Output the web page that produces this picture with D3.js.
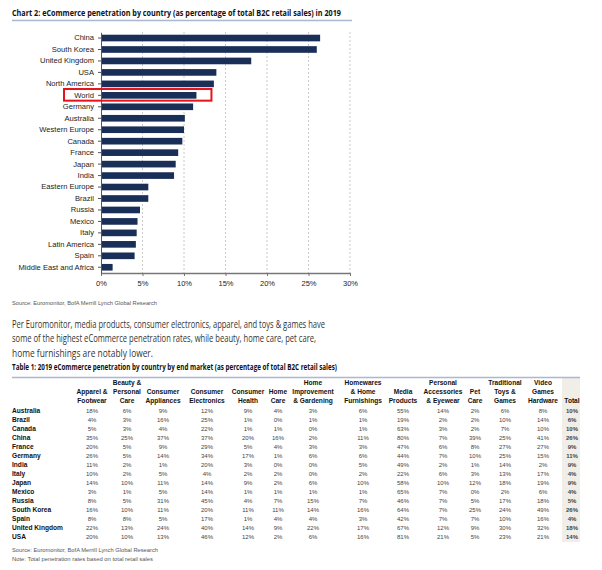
<!DOCTYPE html>
<html>
<head>
<meta charset="utf-8">
<script src="https://cdn.jsdelivr.net/npm/d3@7"></script>
<style>
  body { margin: 0; background: #fff; }
  svg { display: block; }
  .lbl { font-family: "Liberation Sans", Arial, sans-serif; fill: #222; }
  .ttl { font-family: "Open Sans", "Noto Sans", sans-serif; font-weight: 700; fill: #111; }
  .src { font-family: "Liberation Sans", Arial, sans-serif; font-size: 5.3px; fill: #555; }
  .para { font-family: "Open Sans", "Noto Sans", sans-serif; font-size: 10px; fill: #333; }
  .hdr { font-family: "Liberation Sans", Arial, sans-serif; font-weight: 700; font-size: 6.6px; fill: #111; }
  .cell { font-family: "Liberation Sans", Arial, sans-serif; font-size: 6px; fill: #444; }
</style>
</head>
<body>
<div id="chart"></div>
<script>
// chart 2 data
const countries = ['China', 'South Korea', 'United Kingdom', 'USA', 'North America', 'World', 'Germany',
  'Australia', 'Western Europe', 'Canada', 'France', 'Japan', 'India', 'Eastern Europe', 'Brazil',
  'Russia', 'Mexico', 'Italy', 'Latin America', 'Spain', 'Middle East and Africa'];
const penetration = [26.4, 26.0, 18.1, 13.9, 13.6, 11.5, 11.1, 10.1, 10.0, 9.8, 9.3, 9.0, 8.8,
  5.7, 5.7, 4.7, 4.4, 4.3, 4.2, 4.05, 1.4];
const xTicks = [0, 5, 10, 15, 20, 25, 30];
const highlighted = 'World';

// table 1 data
const tableCols = [
  ['', 'Apparel &', 'Footwear'],
  ['Beauty &', 'Personal', 'Care'],
  ['', 'Consumer', 'Appliances'],
  ['', 'Consumer', 'Electronics'],
  ['', 'Consumer', 'Health'],
  ['', 'Home', 'Care'],
  ['Home', 'Improvement', '& Gardening'],
  ['Homewares', '& Home', 'Furnishings'],
  ['', 'Media', 'Products'],
  ['Personal', 'Accessories', '& Eyewear'],
  ['', 'Pet', 'Care'],
  ['Traditional', 'Toys &', 'Games'],
  ['Video', 'Games', 'Hardware'],
  ['', '', 'Total']
];
const tableRows = ['Australia', 'Brazil', 'Canada', 'China', 'France', 'Germany', 'India', 'Italy',
  'Japan', 'Mexico', 'Russia', 'South Korea', 'Spain', 'United Kingdom', 'USA'];
const tableValues = [
  [18, 6, 9, 12, 9, 4, 3, 6, 55, 14, 2, 6, 8, 10],
  [4, 3, 16, 25, 1, 0, 1, 1, 19, 2, 2, 10, 14, 6],
  [5, 3, 4, 22, 1, 1, 0, 1, 63, 3, 2, 7, 10, 10],
  [35, 25, 37, 37, 20, 16, 2, 11, 80, 7, 39, 25, 41, 26],
  [20, 5, 9, 29, 5, 4, 3, 3, 47, 6, 8, 27, 27, 9],
  [26, 5, 14, 34, 17, 1, 6, 6, 44, 7, 10, 25, 15, 11],
  [11, 2, 1, 20, 3, 0, 0, 5, 49, 2, 1, 14, 2, 9],
  [10, 2, 5, 4, 2, 2, 0, 2, 22, 6, 3, 13, 17, 4],
  [14, 10, 11, 14, 9, 2, 6, 10, 58, 10, 12, 18, 19, 9],
  [3, 1, 5, 14, 1, 1, 1, 1, 65, 7, 0, 2, 6, 4],
  [8, 5, 31, 45, 4, 7, 15, 7, 46, 7, 5, 17, 18, 5],
  [16, 10, 11, 20, 11, 11, 14, 16, 64, 7, 25, 24, 49, 26],
  [8, 8, 5, 17, 1, 4, 4, 3, 42, 7, 7, 10, 16, 4],
  [22, 13, 24, 40, 14, 9, 22, 17, 67, 12, 9, 30, 32, 18],
  [20, 10, 13, 46, 12, 2, 6, 16, 81, 21, 5, 23, 21, 14]
];

const paragraph = [
  'Per Euromonitor, media products, consumer electronics, apparel, and toys & games have',
  'some of the highest eCommerce penetration rates, while beauty, home care, pet care,',
  'home furnishings are notably lower.'
];

const w = 602, h = 570;
const svg = d3.select('#chart').append('svg').attr('width', w).attr('height', h);

// ---- Chart 2 ----
svg.append('text').attr('class', 'ttl').attr('x', 12).attr('y', 16).attr('font-size', 9)
  .attr('textLength', 329).attr('lengthAdjust', 'spacingAndGlyphs')
  .text('Chart 2: eCommerce penetration by country (as percentage of total B2C retail sales) in 2019');
svg.append('line').attr('x1', 12).attr('x2', 352).attr('y1', 20.5).attr('y2', 20.5)
  .attr('stroke', '#a9b9cf').attr('stroke-width', 1.5);

const xScale = d3.scaleLinear().domain([0, 30]).range([101, 350]);
const yScale = d3.scaleBand().domain(countries).range([32.3, 273]).paddingInner(0.42).paddingOuter(0.21);

// gridlines
svg.append('g').selectAll('line').data(xTicks.slice(1)).enter().append('line')
  .attr('x1', d => xScale(d)).attr('x2', d => xScale(d))
  .attr('y1', 32).attr('y2', 273)
  .attr('stroke', '#bdbdbd').attr('stroke-width', 0.8).attr('stroke-dasharray', '2,2');

svg.selectAll('rect.bar').data(countries).enter().append('rect')
  .attr('class', 'bar')
  .attr('x', xScale(0))
  .attr('y', d => yScale(d))
  .attr('width', (d, i) => xScale(penetration[i]) - xScale(0))
  .attr('height', yScale.bandwidth())
  .attr('fill', '#1a2f58');

const xAxis = d3.axisBottom(xScale).tickValues(xTicks).tickSize(3).tickSizeOuter(0)
  .tickFormat(d => d + '%');
const gx = svg.append('g').attr('transform', 'translate(0,273)').call(xAxis);
gx.select('.domain').attr('stroke', '#777').attr('stroke-width', 1.5);
gx.selectAll('.tick line').attr('stroke', '#777');
gx.selectAll('.tick text').attr('class', 'lbl').attr('font-size', 7.5).attr('dy', '0.9em').attr('fill', '#333');

const yAxis = d3.axisLeft(yScale).tickSize(3).tickSizeOuter(0).tickPadding(4);
const gy = svg.append('g').attr('transform', `translate(${xScale(0)},0)`).call(yAxis);
gy.select('.domain').attr('stroke', '#555');
gy.selectAll('.tick line').attr('stroke', '#555');
gy.selectAll('.tick text').attr('class', 'lbl').attr('font-size', 7.6).attr('fill', '#333');

// highlight box around World
const wi = countries.indexOf(highlighted);
svg.append('rect')
  .attr('x', 64)
  .attr('y', yScale(highlighted) - 3)
  .attr('width', xScale(penetration[wi]) + 15 - 64)
  .attr('height', yScale.bandwidth() + 5)
  .attr('fill', 'none').attr('stroke', '#e5131b').attr('stroke-width', 2);

svg.append('text').attr('class', 'src').attr('x', 12).attr('y', 305)
  .attr('textLength', 145).attr('lengthAdjust', 'spacingAndGlyphs')
  .text('Source: Euromonitor, BofA Merrill Lynch Global Research');

// ---- paragraph ----
const paraLen = [313, 304, 141];
svg.selectAll('text.para').data(paragraph).enter().append('text')
  .attr('class', 'para').attr('x', 12).attr('y', (d, i) => 328 + i * 14.3)
  .attr('textLength', (d, i) => paraLen[i]).attr('lengthAdjust', 'spacingAndGlyphs')
  .text(d => d);

// ---- Table 1 ----
svg.append('text').attr('class', 'ttl').attr('x', 12).attr('y', 370).attr('font-size', 8.6)
  .attr('textLength', 325).attr('lengthAdjust', 'spacingAndGlyphs')
  .text('Table 1: 2019 eCommerce penetration by country by end market (as percentage of total B2C retail sales)');

const colCenters = [92, 127, 163, 207, 248, 278, 313, 363, 403, 443, 475, 505, 543, 572];
const rowY = d3.scalePoint().domain(tableRows).range([412.5, 539]);

// total column shading
svg.append('rect').attr('x', 562).attr('y', 378).attr('width', 18).attr('height', 164)
  .attr('fill', '#f1eee8');
svg.append('line').attr('x1', 12).attr('x2', 580).attr('y1', 377.5).attr('y2', 377.5)
  .attr('stroke', '#a9b9cf').attr('stroke-width', 1.5);

const hdr = svg.append('g');
tableCols.forEach((lines, c) => {
  lines.forEach((t, k) => {
    if (!t) return;
    hdr.append('text').attr('class', 'hdr').attr('text-anchor', 'middle')
      .attr('x', colCenters[c]).attr('y', 384.5 + k * 9.3).text(t);
  });
});

svg.selectAll('text.rowlbl').data(tableRows).enter().append('text')
  .attr('class', 'hdr rowlbl').attr('x', 12).attr('y', d => rowY(d)).text(d => d);

tableRows.forEach((r, i) => {
  svg.append('g').selectAll('text').data(tableValues[i]).enter().append('text')
    .attr('class', 'cell').attr('text-anchor', 'middle')
    .attr('x', (d, c) => colCenters[c]).attr('y', rowY(r))
    .attr('font-weight', (d, c) => c === tableCols.length - 1 ? 700 : 400)
    .attr('fill', (d, c) => c === tableCols.length - 1 ? '#111' : '#444')
    .text(d => d + '%');
});

svg.append('text').attr('class', 'src').attr('x', 12).attr('y', 552)
  .attr('textLength', 146).attr('lengthAdjust', 'spacingAndGlyphs')
  .text('Source: Euromonitor, BofA Merrill Lynch Global Research');
svg.append('text').attr('class', 'src').attr('x', 12).attr('y', 561)
  .attr('textLength', 141).attr('lengthAdjust', 'spacingAndGlyphs')
  .text('Note: Total penetration rates based on total retail sales');
</script>
</body>
</html>
